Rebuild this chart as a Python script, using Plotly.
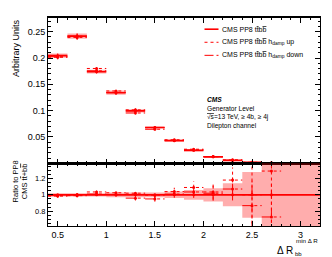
import numpy as np
import plotly.graph_objects as go
from plotly.subplots import make_subplots

# bins of Delta R_bb (min Delta R)
edges = [0.4, 0.6, 0.8, 1.0, 1.2, 1.4, 1.6, 1.8, 2.0, 2.2, 2.4, 2.6, 2.8, 3.2]

# normalised distributions (arbitrary units)
nominal = [0.2045, 0.2415, 0.1740, 0.1340, 0.0995, 0.0680, 0.0430, 0.0245,
           0.0122, 0.0055, 0.0019, 0.0006, 0.0]
hdamp_up = [0.2014, 0.2391, 0.1801, 0.1374, 0.1015, 0.0677, 0.0447, 0.0267,
            0.01263, 0.00649, 0.0019, 0.000774, None]
hdamp_down = [0.2025, 0.2415, 0.1757, 0.1347, 0.0955, 0.0646, 0.0434, 0.02536,
              0.01244, 0.00589, 0.00165, 0.000438, None]

# relative stat. uncertainties
nom_rel = [0.02, 0.02, 0.02, 0.03, 0.03, 0.03, 0.04, 0.06, 0.08, 0.14, 0.28, 2.5, 2.5]
up_rel = [0.02, 0.02, 0.02, 0.03, 0.03, 0.035, 0.045, 0.07, 0.09, 0.13, 0.35, 0.6, None]
down_rel = [0.02, 0.02, 0.02, 0.03, 0.03, 0.035, 0.045, 0.07, 0.09, 0.13, 0.35, 0.6, None]

RED = '#ff0000'
BAND = 'rgba(255,0,0,0.32)'
FONT = 'Liberation Sans'

lo_edges = edges[:-1]
hi_edges = edges[1:]
centers = [(a + b) / 2 for a, b in zip(lo_edges, hi_edges)]


def hsegs(vals):
    xs, ys = [], []
    for lo, hi, v in zip(lo_edges, hi_edges, vals):
        if v is None:
            continue
        xs += [lo, hi, None]
        ys += [v, v, None]
    return xs, ys


def vsegs(vals, errs):
    xs, ys = [], []
    for c, v, e in zip(centers, vals, errs):
        if v is None:
            continue
        xs += [c, c, None]
        ys += [v - e, v + e, None]
    return xs, ys


def boxes(bot, top):
    xs, ys = [], []
    for lo, hi, b, t in zip(lo_edges, hi_edges, bot, top):
        xs += [lo, hi, hi, lo, lo, None]
        ys += [b, b, t, t, b, None]
    return xs, ys


nom = np.array(nominal)
n_err = nom * np.array(nom_rel)
up_err = [None if v is None else v * r for v, r in zip(hdamp_up, up_rel)]
dn_err = [None if v is None else v * r for v, r in zip(hdamp_down, down_rel)]

# ratios to nominal
r_nom = [1.0] * len(nominal)
r_up = [None if v is None else v / n for v, n in zip(hdamp_up, nominal)]
r_dn = [None if v is None else v / n for v, n in zip(hdamp_down, nominal)]
r_up_err = [None if v is None else v * r for v, r in zip(r_up, up_rel)]
r_dn_err = [None if v is None else v * r for v, r in zip(r_dn, down_rel)]

fig = make_subplots(rows=2, cols=1, shared_xaxes=True, vertical_spacing=0,
                    row_heights=[0.6984, 0.3016])

styles = [('solid', 1.6), ('dot', 1.0), ('dashdot', 1.0)]

# ---- top panel
bx, by = boxes(list(np.maximum(nom - n_err, 0)), list(nom + n_err))
fig.add_trace(go.Scatter(x=bx, y=by, fill='toself', fillcolor=BAND, mode='none',
                         hoverinfo='skip'), row=1, col=1)
for vals, errs, (dash, w) in zip([hdamp_down, hdamp_up, list(nominal)],
                                 [dn_err, up_err, list(n_err)],
                                 styles[::-1]):
    hx, hy = hsegs(vals)
    fig.add_trace(go.Scatter(x=hx, y=hy, mode='lines',
                             line=dict(color=RED, width=w, dash=dash)), row=1, col=1)
    vx, vy = vsegs(vals, errs)
    fig.add_trace(go.Scatter(x=vx, y=vy, mode='lines',
                             line=dict(color=RED, width=1, dash=dash)), row=1, col=1)
    fig.add_trace(go.Scatter(x=[c for c, v in zip(centers, vals) if v],
                             y=[v for v in vals if v], mode='markers',
                             marker=dict(color=RED, size=3)), row=1, col=1)

# ---- ratio panel
rb = [1 - r for r in nom_rel]
rt = [1 + r for r in nom_rel]
bx, by = boxes(rb, rt)
fig.add_trace(go.Scatter(x=bx, y=by, fill='toself', fillcolor=BAND, mode='none',
                         hoverinfo='skip'), row=2, col=1)
for vals, errs, (dash, w) in zip([r_dn, r_up], [r_dn_err, r_up_err], [styles[2], styles[1]]):
    hx, hy = hsegs(vals)
    fig.add_trace(go.Scatter(x=hx, y=hy, mode='lines',
                             line=dict(color=RED, width=w, dash=dash)), row=2, col=1)
    vx, vy = vsegs(vals, errs)
    fig.add_trace(go.Scatter(x=vx, y=vy, mode='lines',
                             line=dict(color=RED, width=1, dash=dash)), row=2, col=1)
    fig.add_trace(go.Scatter(x=[c for c, v in zip(centers, vals) if v],
                             y=[v for v in vals if v], mode='markers',
                             marker=dict(color=RED, size=3)), row=2, col=1)
fig.add_trace(go.Scatter(x=[edges[0], edges[-1]], y=[r_nom[0], r_nom[-1]], mode='lines',
                         line=dict(color=RED, width=1.6)), row=2, col=1)
fig.add_trace(go.Scatter(x=centers[:-1], y=r_nom[:-1], mode='markers',
                         marker=dict(color=RED, size=3)), row=2, col=1)

axis_common = dict(showgrid=False, zeroline=False, showline=True, linecolor='black',
                   linewidth=1, mirror='ticks', ticks='inside', ticklen=5,
                   tickcolor='black', tickwidth=1)

fig.update_xaxes(axis_common, range=[0.4, 3.2], tickvals=[0.5, 1, 1.5, 2, 2.5, 3],
                 minor=dict(ticks='inside', ticklen=2.5, tickcolor='black', dtick=0.1, tick0=0.4))
fig.update_xaxes(showticklabels=False, linewidth=1.5, row=1, col=1)
fig.update_xaxes(ticktext=['0.5', '1', '1.5', '2', '2.5', '3'],
                 tickfont=dict(family=FONT, size=9, color='black'), row=2, col=1)

fig.update_yaxes(axis_common, range=[0, 0.276], tickvals=[0.05, 0.1, 0.15, 0.2, 0.25],
                 ticktext=['0.05', '0.1', '0.15', '0.2', '0.25'],
                 tickfont=dict(family=FONT, size=9, color='black'),
                 minor=dict(ticks='inside', ticklen=2.5, tickcolor='black', dtick=0.01, tick0=0),
                 row=1, col=1)
fig.update_yaxes(axis_common, range=[0.62, 1.385], tickvals=[0.8, 1, 1.2],
                 ticktext=['0.8', '1', '1.2'],
                 tickfont=dict(family=FONT, size=7.5, color='black'),
                 minor=dict(ticks='inside', ticklen=2.5, tickcolor='black', dtick=0.05, tick0=0.6),
                 row=2, col=1)

# pixel -> paper helpers
L, R, T, B = 40, 20, 8, 39
W, H = 332, 257
pw, ph = W - L - R, H - T - B


def px(x):
    return (x - L) / pw


def py(y):
    return (H - B - y) / ph


ann = []


def text(x, y, s, size, xanchor='left', yanchor='middle', angle=0, align='left'):
    ann.append(dict(x=px(x), y=py(y), xref='paper', yref='paper', text=s, showarrow=False,
                    xanchor=xanchor, yanchor=yanchor, textangle=angle, align=align,
                    borderpad=0,
                    font=dict(family=FONT, size=size, color='black')))


def bar(s):
    return '<span style="text-decoration:overline">' + s + '</span>'


ttbb = 't' + bar('t') + 'b' + bar('b')
legend_rows = [('solid', 1.6, 'CMS PP8 ' + ttbb, 19.3),
               ('dot', 1.0, 'CMS PP8 ' + ttbb + ' h<sub>damp</sub> up', 32.5),
               ('dashdot', 1.0, 'CMS PP8 ' + ttbb + ' h<sub>damp</sub> down', 45.7)]
shapes = []
for dash, w, label, y in legend_rows:
    shapes.append(dict(type='line', xref='paper', yref='paper', x0=px(196.5), x1=px(210.5),
                       y0=py(y), y1=py(y), line=dict(color=RED, width=w, dash=dash)))
    text(213, y, label, 7)

text(198, 103.5, '<b><i>CMS</i></b><br>Generator Level<br>'
     + bar('\u221as') + '=13 TeV, \u2265 4b, \u2265 4j<br>Dilepton channel', 6.6)

text(8, 8, 'Arbitrary Units', 9, xanchor='center', yanchor='top', angle=-90)
text(12, 173, 'Ratio to PP8<br>CMS t' + bar('t') + '+b' + bar('b'), 7.5,
     xanchor='center', angle=-90, align='center')

# x title: Delta R_bb^(min Delta R)
text(285.5, 242.5, '\u0394 R', 10, xanchor='right')
text(286, 246.5, 'bb', 6, xanchor='left')
text(287, 233, 'min \u0394 R', 6.2, xanchor='left')

fig.update_layout(width=W, height=H, margin=dict(l=L, r=R, t=T, b=B),
                  paper_bgcolor='white', plot_bgcolor='white', showlegend=False,
                  annotations=ann, shapes=shapes,
                  font=dict(family=FONT, color='black'))

fig.write_html("out.html")
